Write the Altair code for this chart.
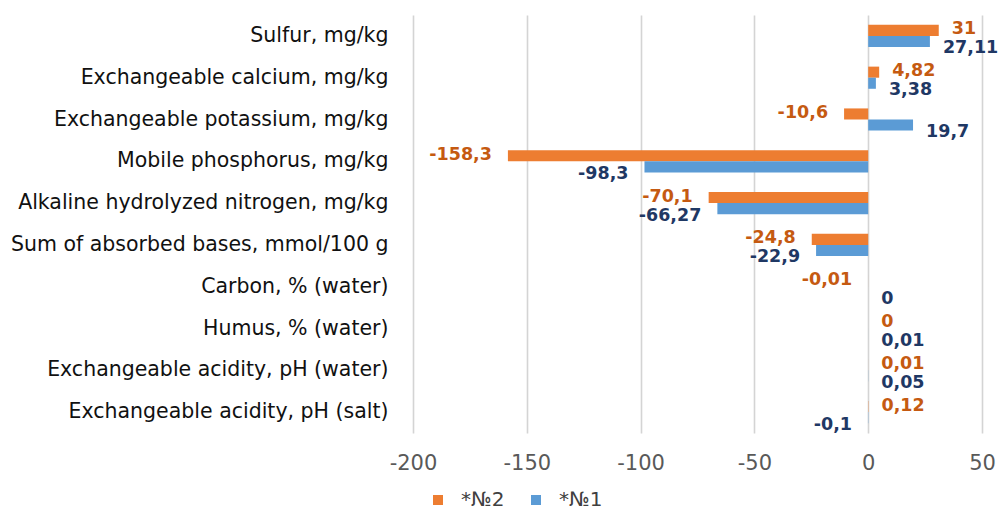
import altair as alt
import pandas as pd

categories = [
    "Sulfur, mg/kg",
    "Exchangeable calcium, mg/kg",
    "Exchangeable potassium, mg/kg",
    "Mobile phosphorus, mg/kg",
    "Alkaline hydrolyzed nitrogen, mg/kg",
    "Sum of absorbed bases, mmol/100 g",
    "Carbon, % (water)",
    "Humus, % (water)",
    "Exchangeable acidity, pH (water)",
    "Exchangeable acidity, pH (salt)",
]
series_names = ["*№2", "*№1"]
values_no2 = [31, 4.82, -10.6, -158.3, -70.1, -24.8, -0.01, 0, 0.01, 0.12]
values_no1 = [27.11, 3.38, 19.7, -98.3, -66.27, -22.9, 0, 0.01, 0.05, -0.1]
x_ticks = [-200, -150, -100, -50, 0, 50]

rows = []
for c, v2, v1 in zip(categories, values_no2, values_no1):
    rows.append({"category": c, "series": series_names[0], "value": v2})
    rows.append({"category": c, "series": series_names[1], "value": v1})
df = pd.DataFrame(rows)

FONT = "DejaVu Sans"

y_enc = alt.Y(
    "category:N",
    sort=categories,
    scale=alt.Scale(paddingInner=0.47, paddingOuter=0.235),
    axis=alt.Axis(
        title=None, domain=False, ticks=False, grid=False,
        labelFont=FONT, labelFontSize=20.5, labelColor="#111111",
        labelPadding=25, labelLimit=420,
    ),
)
yoff_enc = alt.YOffset("series:N", sort=series_names, scale=alt.Scale(paddingInner=0, paddingOuter=0))
x_enc = alt.X(
    "value:Q",
    scale=alt.Scale(domain=[-200, 50], nice=False, zero=True),
    axis=alt.Axis(
        title=None, values=x_ticks, domain=False, ticks=False,
        grid=True, gridColor="#d4d4d4", gridWidth=1.6,
        labelFont=FONT, labelFontSize=21, labelColor="#595959",
        labelPadding=19, labelFlush=False, labelExpr="datum.value",
    ),
)

bars = alt.Chart(df).mark_bar().encode(
    x=x_enc,
    y=y_enc,
    yOffset=yoff_enc,
    color=alt.Color(
        "series:N",
        sort=series_names,
        scale=alt.Scale(domain=series_names, range=["#ED7D31", "#5B9BD5"]),
        legend=alt.Legend(
            title=None, orient="none", legendX=15, legendY=475,
            direction="horizontal", symbolType="square", symbolSize=100,
            symbolStrokeWidth=0, labelFont=FONT, labelFontSize=20,
            labelColor="#404040", labelOffset=13, columnPadding=21,
        ),
    ),
)

label_colors = {series_names[0]: "#C55A11", series_names[1]: "#1F3864"}
label_dys = {series_names[0]: -1, series_names[1]: 7}

base_text = alt.Chart(df).transform_calculate(
    label="replace(toString(datum.value), '.', ',')"
)

layers = [bars]
for s in series_names:
    for positive in (True, False):
        cond = (alt.datum.value >= 0) if positive else (alt.datum.value < 0)
        layers.append(
            base_text.transform_filter(alt.datum.series == s)
            .transform_filter(cond)
            .mark_text(
                align="left" if positive else "right",
                baseline="middle",
                dx=13 if positive else -16,
                dy=label_dys[s],
                font=FONT, fontSize=17.5, fontWeight="bold",
                color=label_colors[s],
            )
            .encode(
                x=alt.X("value:Q"),
                y=alt.Y("category:N", sort=categories),
                yOffset=alt.YOffset("series:N", sort=series_names),
                text="label:N",
            )
        )

chart = alt.layer(*layers).properties(
    width=569, height=418,
    background="white",
    autosize=alt.AutoSizeParams(type="none"),
    padding={"left": 405, "top": 7, "right": 17, "bottom": 78},
).configure_view(strokeWidth=0)

chart.save("out.html", embed_options={"renderer": "svg", "actions": False})
